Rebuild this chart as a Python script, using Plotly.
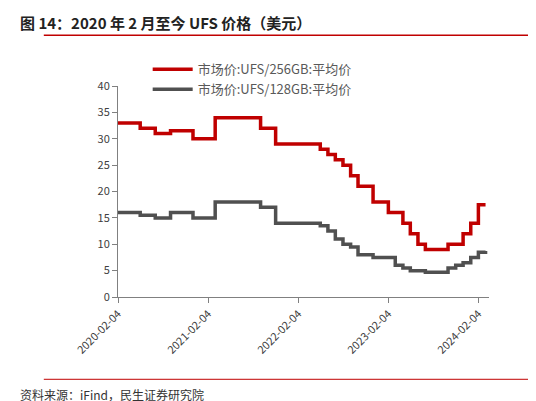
import plotly.graph_objects as go
import pandas as pd

months = [pd.Timestamp('2020-02-04') + pd.DateOffset(months=i) for i in range(50)]

ufs_256 = [33, 33, 33, 32, 32, 31, 31, 31.5, 31.5, 31.5, 30,
           30, 30, 34, 34, 34, 34, 34, 34, 32, 32, 29, 29,
           29, 29, 29, 29, 28, 27, 26, 25, 23, 21, 21, 18,
           18, 16, 16, 14, 12, 10, 9, 9, 9, 10, 10, 12,
           14, 17.5, 17.5]
ufs_128 = [16, 16, 16, 15.5, 15.5, 15, 15, 16, 16, 16, 15,
           15, 15, 18, 18, 18, 18, 18, 18, 17, 17, 14, 14,
           14, 14, 14, 14, 13.5, 12.5, 11, 10, 9.5, 8, 8, 7.5,
           7.5, 7.5, 6, 5.5, 5, 5, 4.7, 4.7, 4.7, 5.5, 6, 6.5,
           7.5, 8.5, 8.7]
tick_dates = ['2020-02-04', '2021-02-04', '2022-02-04', '2023-02-04', '2024-02-04']

font = 'Noto Sans CJK SC'
fig = go.Figure()

fig.add_trace(go.Scatter(x=months, y=ufs_256, name='市场价:UFS/256GB:平均价',
                         mode='lines', line=dict(color='#c00000', width=3.5, shape='hv')))
fig.add_trace(go.Scatter(x=months, y=ufs_128, name='市场价:UFS/128GB:平均价',
                         mode='lines', line=dict(color='#505050', width=3.5, shape='hv')))

fig.update_layout(
    width=536, height=401,
    margin=dict(l=110, r=55, t=78, b=112, autoexpand=False),
    paper_bgcolor='white', plot_bgcolor='white',
    font=dict(family=font, size=11, color='#404040'),
    showlegend=True,
    legend=dict(x=0.08, y=1.15, xanchor='left', yanchor='top', bgcolor='rgba(0,0,0,0)',
                font=dict(size=13, color='#595959'), tracegroupgap=4, itemwidth=40),
    xaxis=dict(range=['2020-02-04', '2024-03-18'], tickvals=tick_dates, ticktext=tick_dates,
               tickangle=-45, showgrid=False, showline=True, linecolor='#808080',
               ticks='outside', tickcolor='#808080', ticklen=5, zeroline=False),
    yaxis=dict(range=[0, 40], dtick=5, showgrid=False, showline=True, linecolor='#808080',
               ticks='outside', tickcolor='#808080', ticklen=5, zeroline=False),
    shapes=[
        dict(type='line', xref='paper', yref='paper', x0=-0.2, x1=1.13, y0=1.24, y1=1.24,
             line=dict(color='#c00000', width=1.5)),
        dict(type='line', xref='paper', yref='paper', x0=-0.2, x1=1.13, y0=-0.39, y1=-0.39,
             line=dict(color='#c00000', width=1)),
    ],
    annotations=[
        dict(text='<b>图 14：2020 年 2 月至今 UFS 价格（美元）</b>', xref='paper', yref='paper',
             x=-0.27, y=1.30, xanchor='left', yanchor='middle', showarrow=False,
             font=dict(size=15, color='#222222')),
        dict(text='资料来源：iFind，民生证券研究院', xref='paper', yref='paper',
             x=-0.27, y=-0.46, xanchor='left', yanchor='middle', showarrow=False,
             font=dict(size=12, color='#333333')),
    ],
)

fig.write_html('out.html')
